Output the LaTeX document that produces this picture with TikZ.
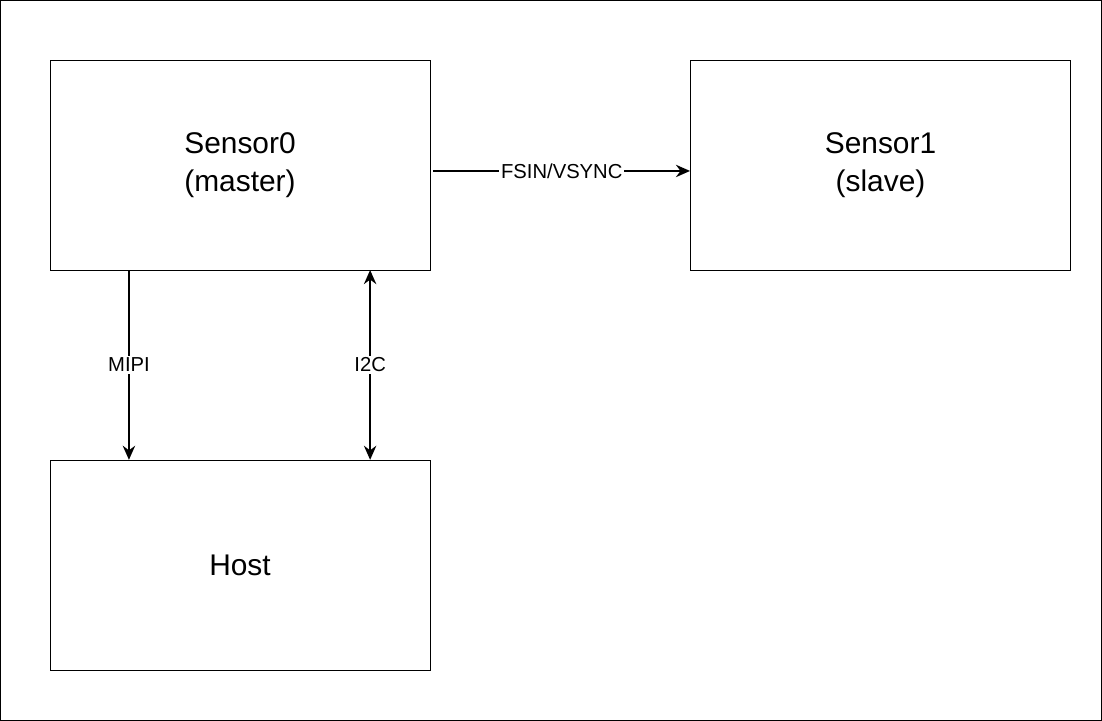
\documentclass[tikz,border=0pt]{standalone}
\usepackage{fontspec}
\setmainfont{Liberation Sans}
\usetikzlibrary{arrows.meta}
\tikzset{
  block/.style={draw, minimum width=7.6cm, minimum height=4.2cm, align=center, font=\fontsize{17}{21.5}\selectfont},
  link/.style={line width=1.3pt, -{Stealth[length=8pt,width=7pt]}},
  tag/.style={fill=white, inner sep=1pt, font=\fontsize{11.5}{13}\selectfont}
}
\begin{document}
\begin{tikzpicture}[x=0.02cm, y=-0.02cm]
                \draw (0.5,0.5) rectangle (1101,720);
                \node[block] (sensor0) at (240,165) {Sensor0\\(master)};
                \node[block] (sensor1) at (880,165) {Sensor1\\(slave)};
                \node[block] (host) at (240,565) {Host};
                \draw [link] (sensor0.east |- 0,171) ++(3,0) coordinate (fsin) -- (sensor1.west |- 0,171) node[tag, pos=0.5] {FSIN/VSYNC};
                \draw [link] (129,270) coordinate (mipi) -- (mipi |- host.north) node[tag, pos=0.5] {MIPI};
                \draw [link, {Stealth[length=8pt,width=7pt]}-{Stealth[length=8pt,width=7pt]}] (370,270) coordinate (i2c) -- (i2c |- host.north) node[tag, pos=0.5] {I2C};
            \end{tikzpicture}
\end{document}
